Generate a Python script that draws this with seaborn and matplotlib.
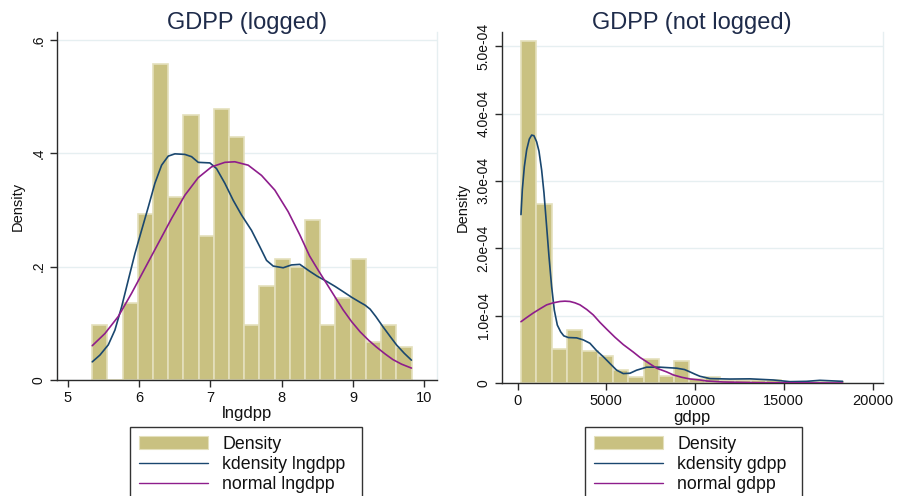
import numpy as np
import pandas as pd
import matplotlib
matplotlib.use("Agg")
import matplotlib.pyplot as plt
import seaborn as sns
from matplotlib.patches import Patch
from matplotlib.lines import Line2D

# ---------------- data: logged GDP per person ----------------
log_bin_start = 5.34
log_bin_width = 0.2134
log_density = [0.0965, 0.0, 0.136, 0.2935, 0.557, 0.322, 0.468, 0.2535, 0.478,
               0.429, 0.097, 0.165, 0.214, 0.199, 0.283, 0.097, 0.145, 0.214,
               0.067, 0.0965, 0.0576]
log_kde_x = [5.341, 5.449, 5.566, 5.659, 5.753, 5.846, 5.940, 6.033, 6.127,
             6.220, 6.314, 6.407, 6.501, 6.641, 6.735, 6.828, 6.992, 7.085,
             7.202, 7.319, 7.436, 7.576, 7.693, 7.787, 7.880, 8.020, 8.137,
             8.254, 8.39, 8.50, 8.63, 8.75, 8.86, 8.98, 9.10, 9.17, 9.24,
             9.32, 9.42, 9.52, 9.61, 9.72, 9.82]
log_kde_y = [0.032, 0.044, 0.062, 0.088, 0.129, 0.176, 0.223, 0.264, 0.305,
             0.347, 0.379, 0.395, 0.399, 0.398, 0.394, 0.384, 0.383, 0.373,
             0.347, 0.317, 0.291, 0.264, 0.235, 0.211, 0.201, 0.198, 0.203,
             0.204, 0.192, 0.183, 0.174, 0.165, 0.156, 0.146, 0.137, 0.132,
             0.125, 0.112, 0.094, 0.077, 0.062, 0.047, 0.035]
log_norm_x = [5.341, 5.519, 5.706, 5.893, 6.080, 6.267, 6.454, 6.641, 6.828,
              7.015, 7.202, 7.342, 7.529, 7.716, 7.903, 8.090, 8.254, 8.39,
              8.51, 8.63, 8.75, 8.86, 8.98, 9.10, 9.22, 9.33, 9.45, 9.56,
              9.68, 9.82]
log_norm_y = [0.0605, 0.082, 0.112, 0.153, 0.197, 0.241, 0.285, 0.326, 0.357,
              0.376, 0.384, 0.385, 0.379, 0.361, 0.335, 0.297, 0.256, 0.219,
              0.194, 0.170, 0.146, 0.124, 0.103, 0.085, 0.070, 0.058, 0.046,
              0.036, 0.028, 0.021]

# ---------------- data: GDP per person (not logged) ----------------
gdpp_bin_start = 188
gdpp_bin_width = 863
gdpp_density = [5.08e-4, 2.66e-4, 0.50e-4, 0.79e-4, 0.475e-4, 0.406e-4,
                0.188e-4, 0.085e-4, 0.355e-4, 0.105e-4, 0.33e-4, 0.065e-4,
                0.09e-4, 0.05e-4, 0.05e-4, 0.05e-4, 0.045e-4, 0.02e-4,
                0.02e-4, 0.02e-4, 0.02e-4]
gdpp_kde_x = [188, 263, 376, 507, 657, 789, 920, 1070, 1202, 1352, 1484, 1634,
              1765, 1915, 2066, 2235, 2423, 2600, 2854, 3324, 3700, 4073, 4450,
              4826, 5200, 5580, 5950, 6329, 6700, 7268, 8017, 8957, 9400,
              9707, 10000, 10270, 10836, 11962, 13089, 14404, 15343, 16282,
              17033, 18310]
gdpp_kde_y = [2.50e-4, 2.87e-4, 3.21e-4, 3.46e-4, 3.62e-4, 3.68e-4, 3.67e-4,
              3.58e-4, 3.44e-4, 3.16e-4, 2.82e-4, 2.32e-4, 1.88e-4, 1.43e-4,
              1.08e-4, 0.86e-4, 0.76e-4, 0.70e-4, 0.675e-4, 0.67e-4, 0.64e-4,
              0.59e-4, 0.48e-4, 0.39e-4, 0.29e-4, 0.19e-4, 0.14e-4, 0.145e-4,
              0.19e-4, 0.235e-4, 0.235e-4, 0.22e-4, 0.20e-4, 0.165e-4,
              0.13e-4, 0.10e-4, 0.066e-4, 0.059e-4, 0.062e-4, 0.045e-4,
              0.02e-4, 0.025e-4, 0.04e-4, 0.025e-4]
gdpp_norm_x = [188, 500, 883, 1250, 1634, 2000, 2385, 2665, 2948, 3230, 3512,
               3900, 4263, 4637, 5014, 5480, 5953, 6513, 6892, 7360, 7831,
               8394, 8770, 9240, 9709, 10270, 10648, 11587, 13465, 18310]
gdpp_norm_y = [0.91e-4, 0.97e-4, 1.04e-4, 1.10e-4, 1.16e-4, 1.19e-4, 1.21e-4,
               1.215e-4, 1.21e-4, 1.19e-4, 1.16e-4, 1.09e-4, 1.01e-4, 0.90e-4,
               0.80e-4, 0.68e-4, 0.57e-4, 0.46e-4, 0.38e-4, 0.30e-4, 0.22e-4,
               0.165e-4, 0.12e-4, 0.085e-4, 0.06e-4, 0.045e-4, 0.03e-4,
               0.015e-4, 0.005e-4, 0.0]

# tick labels
log_xticks = [5, 6, 7, 8, 9, 10]
log_yticks = [0, 0.2, 0.4, 0.6]
log_ytick_labels = ["0", ".2", ".4", ".6"]
gdpp_xticks = [0, 5000, 10000, 15000, 20000]
gdpp_yticks = [0, 1e-4, 2e-4, 3e-4, 4e-4, 5e-4]
gdpp_ytick_labels = ["0", "1.0e-04", "2.0e-04", "3.0e-04", "4.0e-04", "5.0e-04"]

# ---------------- style ----------------
sns.set_theme(style="white")
plt.rcParams["font.family"] = ["Liberation Sans", "DejaVu Sans"]

KHAKI = "#C9C181"
BAR_EDGE = "#E4E0BC"
NAVY = "#1A476F"
PURPLE = "#8E1D8C"
GRID = "#E6EFF1"
AXC = "#2A2A2A"
TITLE_C = "#1E2B4A"

fig = plt.figure(figsize=(9, 4.96), dpi=100)
ax1 = fig.add_axes([0.0633, 0.2339, 0.4222, 0.7016])
ax2 = fig.add_axes([0.5574, 0.2278, 0.4236, 0.7077])


def draw_panel(ax, start, width, dens, kx, ky, nx, ny):
    n = len(dens)
    centers = [start + width * (i + 0.5) for i in range(n)]
    df = pd.DataFrame({"x": centers, "w": dens})
    sns.histplot(data=df, x="x", weights="w", binwidth=width,
                 binrange=(start, start + n * width), stat="count",
                 color=KHAKI, edgecolor=BAR_EDGE, linewidth=1.2, alpha=1.0,
                 ax=ax, zorder=2)
    sns.lineplot(x=kx, y=ky, color=NAVY, linewidth=1.2, ax=ax, zorder=3,
                 sort=False)
    sns.lineplot(x=nx, y=ny, color=PURPLE, linewidth=1.2, ax=ax, zorder=3,
                 sort=False)


draw_panel(ax1, log_bin_start, log_bin_width, log_density,
           log_kde_x, log_kde_y, log_norm_x, log_norm_y)
draw_panel(ax2, gdpp_bin_start, gdpp_bin_width, gdpp_density,
           gdpp_kde_x, gdpp_kde_y, gdpp_norm_x, gdpp_norm_y)

ax1.set_xlim(4.846, 10.178)
ax1.set_ylim(0, 0.614)
ax2.set_xlim(-901, 20580)
ax2.set_ylim(0, 5.21e-4)

ax1.set_xticks(log_xticks, [str(t) for t in log_xticks])
ax1.set_yticks(log_yticks, log_ytick_labels, rotation=90, va="center")
ax2.set_xticks(gdpp_xticks, [str(t) for t in gdpp_xticks])
ax2.set_yticks(gdpp_yticks, gdpp_ytick_labels, rotation=90, va="center")

for ax, title, xl in [(ax1, "GDPP (logged)", "lngdpp"),
                      (ax2, "GDPP (not logged)", "gdpp")]:
    ax.set_axisbelow(True)
    ax.yaxis.grid(True, color=GRID, linewidth=1.0)
    ax.xaxis.grid(False)
    for s in ["left", "bottom"]:
        ax.spines[s].set_visible(True)
        ax.spines[s].set_color(AXC)
        ax.spines[s].set_linewidth(1.0)
    ax.spines["top"].set_visible(False)
    ax.spines["right"].set_visible(True)
    ax.spines["right"].set_color(GRID)
    ax.spines["right"].set_linewidth(1.0)
    ax.tick_params(axis="both", direction="out", length=5, width=1.0,
                   color=AXC, labelcolor="#111111", bottom=True, left=True)
    ax.tick_params(axis="x", labelsize=10.5, pad=3)
    ax.tick_params(axis="y", labelsize=10, pad=3)
    ax.set_title(title, fontsize=17, color=TITLE_C, pad=2.5)
    ax.set_xlabel(xl, fontsize=12, color="#111111", labelpad=1)
    ax.set_ylabel("Density", fontsize=10.5, color="#111111", labelpad=5)


def legend_handles():
    return [
        Patch(facecolor=KHAKI, edgecolor=BAR_EDGE, linewidth=0.8),
        Line2D([], [], color=NAVY, linewidth=1.0),
        Line2D([], [], color=PURPLE, linewidth=1.0),
    ]


for (x0, x1, v) in [(130, 362, "lngdpp"), (585, 802, "gdpp")]:
    leg = fig.legend(legend_handles(),
                     ["Density", f"kdensity {v}", f"normal {v}"],
                     loc="upper left",
                     bbox_to_anchor=(x0 / 900, 0.0, (x1 - x0) / 900, 1 - 427 / 496),
                     mode="expand", borderaxespad=0.0, ncol=1,
                     fontsize=12.8, frameon=True, fancybox=False,
                     handlelength=3.9, handleheight=0.75, handletextpad=0.8,
                     borderpad=0.5, labelspacing=0.17)
    fr = leg.get_frame()
    fr.set_edgecolor("#333333")
    fr.set_linewidth(1.0)
    fr.set_facecolor("white")
    fr.set_alpha(1.0)
    for t in leg.get_texts():
        t.set_color("#111111")

fig.savefig("out.png", dpi=100)
